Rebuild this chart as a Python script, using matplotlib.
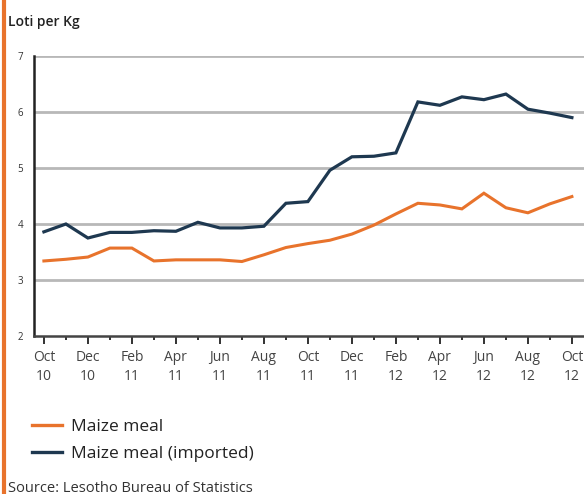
import matplotlib
matplotlib.use("Agg")
import matplotlib.pyplot as plt
from matplotlib.lines import Line2D

months = ["Oct\n10", "Nov\n10", "Dec\n10", "Jan\n11", "Feb\n11", "Mar\n11", "Apr\n11", "May\n11",
          "Jun\n11", "Jul\n11", "Aug\n11", "Sep\n11", "Oct\n11", "Nov\n11", "Dec\n11", "Jan\n12",
          "Feb\n12", "Mar\n12", "Apr\n12", "May\n12", "Jun\n12", "Jul\n12", "Aug\n12", "Sep\n12", "Oct\n12"]
maize_meal = [3.34, 3.37, 3.41, 3.57, 3.57, 3.34, 3.36, 3.36, 3.36, 3.33, 3.45, 3.58, 3.65,
              3.71, 3.82, 3.98, 4.18, 4.37, 4.34, 4.27, 4.55, 4.29, 4.20, 4.36, 4.49]
maize_imported = [3.86, 4.00, 3.75, 3.85, 3.85, 3.88, 3.87, 4.03, 3.93, 3.93, 3.96, 4.37, 4.40,
                  4.96, 5.20, 5.21, 5.27, 6.18, 6.12, 6.27, 6.22, 6.32, 6.05, 5.98, 5.90]
yticks = [2, 3, 4, 5, 6, 7]

orange = "#e8732c"
navy = "#1e3850"

plt.rcParams['font.family'] = ['Open Sans', 'DejaVu Sans']

fig = plt.figure(figsize=(5.84, 4.94), dpi=100)
ax = fig.add_axes([34/584, 1-336/494, 550/584, 280/494])

x = list(range(len(months)))
ax.plot(x, maize_meal, color=orange, lw=2.2, solid_joinstyle='miter', zorder=3)
ax.plot(x, maize_imported, color=navy, lw=2.3, solid_joinstyle='miter', zorder=3)

ax.set_ylim(2, 7)
ax.set_xlim(-0.45, 24.55)
ax.set_yticks(yticks)
ax.set_yticklabels([str(v) for v in yticks], fontsize=7, color="#333333")
ax.tick_params(axis='y', length=0, pad=8)
for v in yticks[1:]:
    ax.axhline(v, color="#b8b8b8", lw=2.0, zorder=1)

ax.set_xticks(x[::2])
ax.set_xticklabels(months[::2], fontsize=10, color="#444444", linespacing=1.35)
ax.set_xticks(x[1::2], minor=True)
ax.tick_params(axis='x', which='major', length=6, width=1.3, color="#222222", pad=4)
ax.tick_params(axis='x', which='minor', length=3, width=1.3, color="#222222")

for s in ['top', 'right']:
    ax.spines[s].set_visible(False)
ax.spines['left'].set_linewidth(1.8)
ax.spines['left'].set_color("#222222")
ax.spines['bottom'].set_linewidth(1.8)
ax.spines['bottom'].set_color("#444444")

# orange vertical bar at left edge
fig.add_artist(Line2D([4/584, 4/584], [0, 1], color=orange, lw=3.0, transform=fig.transFigure))

fig.text(8/584, 1-22/494, "Loti per Kg", fontsize=10, fontweight='semibold', color="#222222",
         va='center', ha='left')

leg = ax.legend([Line2D([], [], color=orange, lw=2.4), Line2D([], [], color=navy, lw=2.4)],
                ["Maize meal", "Maize meal (imported)"],
                loc='upper left', bbox_to_anchor=(32/584, 1-419/494), bbox_transform=fig.transFigure,
                frameon=False, fontsize=12.5, handlelength=1.7, handletextpad=0.55, labelspacing=0.6,
                borderaxespad=0, borderpad=0)
for t in leg.get_texts():
    t.set_color("#222222")

fig.text(8/584, 1-488/494, "Source: Lesotho Bureau of Statistics", fontsize=10.5, color="#333333",
         va='center', ha='left')

fig.savefig("out.png", dpi=100)
